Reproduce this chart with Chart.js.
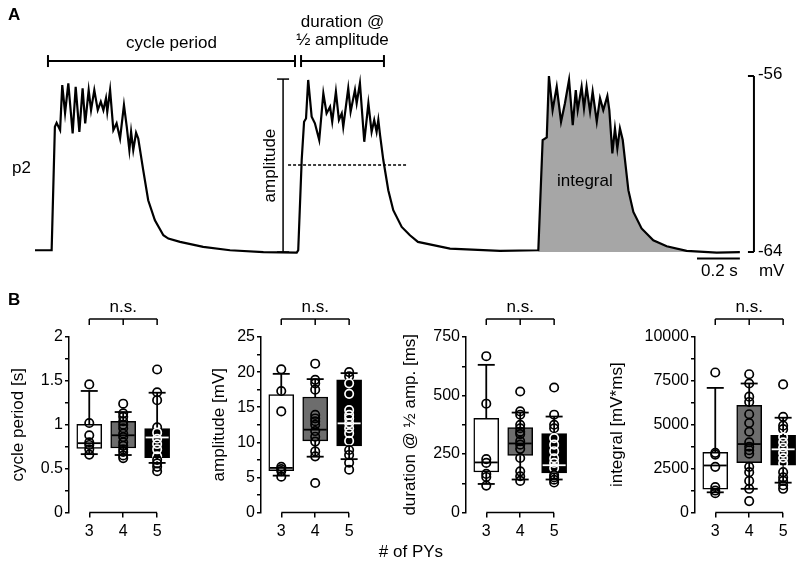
<!DOCTYPE html>
<html>
<head>
<meta charset="utf-8">
<script src="https://cdn.jsdelivr.net/npm/chart.js@4.4.1/dist/chart.umd.min.js"></script>
<style>
  body { margin: 0; width: 800px; height: 566px; overflow: hidden; background: #fff; position: relative;
         font-family: "Liberation Sans", Arial, sans-serif; color: #000; }
  canvas { position: absolute; }
  .tag { position: absolute; font-weight: bold; font-size: 17px; }
  .xlab { position: absolute; font-size: 17px; left: 339px; width: 144px; text-align: center; top: 542px; }
</style>
</head>
<body>
<canvas id="trace" width="800" height="285" style="left:0;top:0"></canvas>
<canvas id="cycle" width="180" height="281" style="left:0;top:285px"></canvas>
<canvas id="amp" width="180" height="281" style="left:192px;top:285px"></canvas>
<canvas id="dur" width="180" height="281" style="left:397px;top:285px"></canvas>
<canvas id="integ" width="206" height="281" style="left:600px;top:285px"></canvas>
<div class="tag" style="left:8px;top:5px">A</div>
<div class="tag" style="left:8px;top:290px">B</div>
<div class="xlab"># of PYs</div>
<script>
// ---- panel A: membrane potential trace (time in s, voltage in mV)
const traceT = [0.023,0.100,0.115,0.123,0.139,0.149,0.162,0.177,0.197,0.211,0.228,0.243,0.255,0.271,0.282,0.297,0.313,0.327,0.339,0.351,
  0.357,0.370,0.385,0.400,0.416,0.434,0.447,0.459,0.467,0.477,0.490,0.500,0.523,0.546,0.577,0.616,0.639,0.693,0.800,0.924,1.078,1.232,
  1.239,1.255,1.266,1.275,1.285,1.301,1.316,1.336,1.355,1.370,1.386,1.396,1.413,1.427,1.440,1.447,1.470,1.481,1.501,1.509,
  1.524,1.544,1.563,1.578,1.590,1.601,1.609,1.617,1.632,1.655,1.678,1.717,1.755,1.792,1.940,2.171,2.348,
  2.368,2.387,2.397,2.414,2.433,2.453,2.471,2.490,2.507,2.521,2.530,2.548,2.559,2.571,2.587,2.599,2.618,2.633,2.648,2.667,
  2.676,2.690,2.702,2.713,2.725,2.738,2.764,2.787,2.825,2.879,2.941,3.033,3.172,3.279];
const traceV = [-63.92,-63.92,-58.31,-58.13,-58.46,-56.41,-57.68,-56.33,-58.61,-56.49,-58.54,-56.56,-58.15,-56.64,-57.55,-56.64,-57.55,-57.17,-57.55,-57.01,
  -57.62,-56.64,-58.46,-58.15,-58.84,-57.32,-58.31,-59.37,-58.54,-59.37,-58.58,-58.84,-60.28,-61.65,-62.56,-63.24,-63.39,-63.54,-63.77,-63.92,-64.01,-64.03,
  -63.92,-59.82,-58.08,-57.93,-56.18,-57.85,-58.15,-58.91,-56.79,-57.70,-57.40,-58.08,-56.71,-58.00,-57.70,-58.31,-56.56,-57.62,-56.64,-57.24,
  -56.33,-58.99,-57.24,-58.54,-58.00,-58.54,-58.00,-58.69,-59.82,-61.19,-62.10,-62.86,-63.24,-63.54,-63.85,-63.95,-63.92,
  -58.91,-58.79,-56.00,-57.55,-56.49,-58.08,-57.24,-56.18,-58.23,-56.64,-57.55,-56.49,-57.47,-56.49,-57.62,-56.71,-58.08,-57.01,-57.55,-56.91,
  -57.55,-59.52,-58.38,-59.29,-58.38,-58.91,-61.19,-62.18,-62.93,-63.47,-63.74,-63.95,-64.03,-64.01];
const integralStart = 78;          // index where the shaded burst begins
const baselineMv = -64;

// annotation positions (data units)
const periodSpan = [0.083, 1.224];
const durationSpan = [1.252, 1.635];
const bracketLevel = -55.32;
const ampTime = 1.169;
const ampRange = [-64, -56.14];
const halfLevel = -60.05;
const halfSpan = [1.192, 1.741];
const scaleTime = 3.344;
const mvRange = [-64, -56];
const timeBar = [3.081, 3.279];
const timeBarLevel = -64.3;
const integralLabel = [2.563, -60.77];

// ---- panel B: box plots per number of PYs
const pyCounts = [3, 4, 5];

const cycle3 = [1.46, 1.02, 0.88, 0.80, 0.77, 0.72, 0.66];
const cycle4 = [1.24, 1.13, 1.09, 1.04, 1.00, 0.96, 0.90, 0.86, 0.80, 0.76, 0.72, 0.69, 0.65, 0.62];
const cycle5 = [1.63, 1.37, 1.28, 0.97, 0.91, 0.84, 0.78, 0.72, 0.64, 0.60, 0.56, 0.52, 0.47];
const cycleQ1 = [0.73, 0.735, 0.625];
const cycleQ3 = [1.005, 1.04, 0.955];
const cycleMed = [0.79, 0.88, 0.855];
const cycleLow = [0.665, 0.655, 0.565];
const cycleHigh = [1.385, 1.145, 1.365];

const amp3 = [20.4, 17.3, 14.4, 6.5, 6.2, 5.9, 5.1];
const amp4 = [21.2, 18.9, 18.4, 17.5, 13.9, 13.4, 13.0, 12.5, 11.6, 10.8, 10.1, 8.7, 8.0, 4.2];
const amp5 = [20.0, 19.4, 18.4, 16.9, 14.6, 13.9, 13.4, 12.7, 12.0, 11.3, 10.2, 8.9, 8.2, 7.1, 6.1];
const ampQ1 = [5.95, 10.2, 9.5];
const ampQ3 = [16.8, 16.45, 18.9];
const ampMed = [6.35, 11.8, 12.7];
const ampLow = [5.25, 7.95, 7.6];
const ampHigh = [19.75, 19.0, 19.85];

const dur3 = [668, 465, 228, 212, 165, 152, 115];
const dur4 = [517, 432, 418, 375, 360, 345, 335, 305, 290, 272, 233, 176, 155, 135];
const dur5 = [534, 418, 375, 360, 318, 290, 262, 232, 212, 190, 160, 150, 140, 128];
const durQ1 = [173, 244, 169];
const durQ3 = [402, 363, 337];
const durMed = [214, 295, 202];
const durLow = [122, 141, 141];
const durHigh = [631, 427, 410];

const int3 = [7980, 3400, 3300, 2600, 1450, 1250, 1100];
const int4 = [7880, 7350, 6600, 6300, 5600, 5100, 4600, 4000, 3750, 3550, 3350, 2600, 2300, 1800, 1350, 650];
const int5 = [7300, 5450, 4950, 4750, 4300, 4000, 3700, 3400, 3100, 2800, 2300, 2000, 1800, 1550, 1350];
const intQ1 = [1330, 2840, 2690];
const intQ3 = [3430, 6100, 4400];
const intMed = [2680, 3900, 3600];
const intLow = [1150, 1350, 1700];
const intHigh = [7100, 7350, 5400];

const boxFills = ['#ffffff', '#6d6d6d', '#000000'];
const medianColors = ['#000000', '#000000', '#ffffff'];

Chart.defaults.font.family = '"Liberation Sans", Arial, sans-serif';
Chart.defaults.color = '#000';

const seg = (ctx, x1, y1, x2, y2) => { ctx.beginPath(); ctx.moveTo(x1, y1); ctx.lineTo(x2, y2); ctx.stroke(); };

// ---- trace annotations
const traceMarks = {
  id: 'traceMarks',
  afterDatasetsDraw(chart) {
    const { ctx, scales: { x, y } } = chart;
    const px = t => x.getPixelForValue(t), py = v => y.getPixelForValue(v);
    ctx.save();
    ctx.strokeStyle = '#000';
    ctx.fillStyle = '#000';

    ctx.lineWidth = 2;
    const by = py(bracketLevel);
    [periodSpan, durationSpan].forEach(([a, b]) => {
      seg(ctx, px(a), by, px(b), by);
      seg(ctx, px(a), by - 6, px(a), by + 6);
      seg(ctx, px(b), by - 6, px(b), by + 6);
    });

    ctx.lineWidth = 1.5;
    const ax = px(ampTime), ay0 = py(ampRange[0]), ay1 = py(ampRange[1]);
    seg(ctx, ax, ay0, ax, ay1);
    seg(ctx, ax - 6, ay1, ax + 6, ay1);
    seg(ctx, ax - 6, ay0, ax + 6, ay0);

    ctx.setLineDash([3, 2]);
    seg(ctx, px(halfSpan[0]), py(halfLevel), px(halfSpan[1]), py(halfLevel));
    ctx.setLineDash([]);

    ctx.lineWidth = 2;
    const sx = px(scaleTime);
    seg(ctx, sx, py(mvRange[0]), sx, py(mvRange[1]));
    seg(ctx, sx - 6, py(mvRange[0]), sx, py(mvRange[0]));
    seg(ctx, sx - 6, py(mvRange[1]), sx, py(mvRange[1]));
    seg(ctx, px(timeBar[0]), py(timeBarLevel), px(timeBar[1]), py(timeBarLevel));

    ctx.font = '17px "Liberation Sans", Arial, sans-serif';
    ctx.textAlign = 'center';
    ctx.textBaseline = 'middle';
    ctx.fillText('cycle period', px((periodSpan[0] + periodSpan[1]) / 2), by - 18);
    const dmid = px((durationSpan[0] + durationSpan[1]) / 2);
    ctx.fillText('duration @', dmid, by - 39);
    ctx.fillText('½ amplitude', dmid, by - 21);
    ctx.fillText('integral', px(integralLabel[0]), py(integralLabel[1]));
    ctx.fillText('0.2 s', px((timeBar[0] + timeBar[1]) / 2) + 1, py(timeBarLevel) + 13);
    ctx.textAlign = 'left';
    ctx.fillText(String(mvRange[1]), sx + 4, py(mvRange[1]) - 2);
    ctx.fillText(String(mvRange[0]), sx + 4, py(mvRange[0]) - 1);
    ctx.fillText('mV', sx + 5, py(mvRange[0]) + 19);
    ctx.fillText('p2', 12, 168);

    ctx.translate(ax - 13, (ay0 + ay1) / 2);
    ctx.rotate(-Math.PI / 2);
    ctx.textAlign = 'center';
    ctx.fillText('amplitude', 0, 0);
    ctx.restore();
  }
};

new Chart(document.getElementById('trace'), {
  type: 'line',
  data: {
    datasets: [
      {
        data: traceT.slice(integralStart).map((t, i) => ({ x: t, y: traceV[integralStart + i] })),
        fill: { value: baselineMv },
        backgroundColor: '#a6a6a6',
        borderWidth: 0,
        pointRadius: 0,
        order: 2
      },
      {
        data: traceT.map((t, i) => ({ x: t, y: traceV[i] })),
        borderColor: '#000',
        borderWidth: 2.2,
        pointRadius: 0,
        fill: false,
        order: 1
      }
    ]
  },
  options: {
    responsive: false,
    animation: false,
    layout: { padding: { left: 30, right: 40, top: 10, bottom: 11 } },
    scales: {
      x: { type: 'linear', display: false, min: 0, max: 3.372 },
      y: { display: false, min: -65, max: -53 }
    },
    plugins: { legend: { display: false }, tooltip: { enabled: false } }
  },
  plugins: [traceMarks]
});

// ---- box plot panels
function boxPanel(canvasId, cfg) {
  const { groups, q1, q3, med, low, high, yMax, yStep, yMajor, title, yWidth, titlePad } = cfg;

  const whiskers = {
    id: 'whiskers',
    afterDatasetDraw(chart, args) {
      if (args.index !== 0) return;
      const { ctx, scales: { x, y } } = chart;
      ctx.save();
      ctx.lineWidth = 1.8;
      pyCounts.forEach((g, i) => {
        const cx = x.getPixelForValue(g);
        ctx.strokeStyle = '#000';
        seg(ctx, cx, y.getPixelForValue(q3[i]), cx, y.getPixelForValue(high[i]));
        seg(ctx, cx - 8.5, y.getPixelForValue(high[i]), cx + 8.5, y.getPixelForValue(high[i]));
        seg(ctx, cx, y.getPixelForValue(q1[i]), cx, y.getPixelForValue(low[i]));
        seg(ctx, cx - 8.5, y.getPixelForValue(low[i]), cx + 8.5, y.getPixelForValue(low[i]));
        ctx.strokeStyle = medianColors[i];
        seg(ctx, cx - 11.5, y.getPixelForValue(med[i]), cx + 11.5, y.getPixelForValue(med[i]));
      });
      ctx.restore();
    }
  };

  const brackets = {
    id: 'brackets',
    afterDraw(chart) {
      const { ctx, chartArea, scales: { x } } = chart;
      const xs = pyCounts.map(g => x.getPixelForValue(g));
      ctx.save();
      ctx.strokeStyle = '#000';
      ctx.lineWidth = 1.5;
      const ty = chartArea.top - 18;
      seg(ctx, xs[0], ty, xs[2], ty);
      xs.forEach(px => seg(ctx, px, ty, px, ty + 6));
      seg(ctx, xs[0], chartArea.bottom, xs[2], chartArea.bottom);
      ctx.fillStyle = '#000';
      ctx.font = '17px "Liberation Sans", Arial, sans-serif';
      ctx.textAlign = 'center';
      ctx.textBaseline = 'middle';
      ctx.fillText('n.s.', xs[1], chartArea.top - 30);
      ctx.restore();
    }
  };

  return new Chart(document.getElementById(canvasId), {
    type: 'bar',
    data: {
      datasets: [
        {
          type: 'bar',
          data: pyCounts.map((g, i) => ({ x: g, y: [q1[i], q3[i]] })),
          backgroundColor: boxFills,
          borderColor: '#000',
          borderWidth: 1.5,
          borderSkipped: false,
          barThickness: 25,
          order: 3
        },
        ...groups.map((vals, gi) => ({
          type: 'scatter',
          data: vals.map(v => ({ x: pyCounts[gi], y: v })),
          pointRadius: 4.2,
          pointBorderWidth: 1.7,
          pointBackgroundColor: 'rgba(0,0,0,0)',
          pointBorderColor: c => (gi === 2 && c.raw && c.raw.y > q1[gi] && c.raw.y < q3[gi]) ? '#fff' : '#000',
          clip: false,
          order: 1
        }))
      ]
    },
    options: {
      responsive: false,
      animation: false,
      layout: { padding: { top: 52, left: 0, right: 0, bottom: 0 } },
      plugins: { legend: { display: false }, tooltip: { enabled: false } },
      scales: {
        x: {
          type: 'linear', min: 2.403, max: 5.5, offset: false,
          afterBuildTicks: s => { s.ticks = pyCounts.map(v => ({ value: v })); },
          afterFit: s => { s.height = 53.5; },
          ticks: { font: { size: 16 }, color: '#000', padding: 4, autoSkip: false, callback: v => String(v) },
          grid: { display: true, offset: false, drawOnChartArea: false, drawTicks: true, tickLength: 5, color: '#000', lineWidth: 1.5 },
          border: { display: false }
        },
        y: {
          min: 0, max: yMax,
          afterFit: s => { s.width = yWidth; },
          ticks: {
            stepSize: yStep, font: { size: 16 }, color: '#000', padding: 2, autoSkip: false,
            callback: v => (Math.abs(v / yMajor - Math.round(v / yMajor)) < 1e-6 ? String(v) : '')
          },
          grid: { display: true, drawOnChartArea: false, drawTicks: true, tickLength: 4, color: '#000', lineWidth: 1.5 },
          border: { display: true, color: '#000', width: 1.5 },
          title: { display: true, text: title, font: { size: 17 }, color: '#000', padding: { top: titlePad, bottom: 0 } }
        }
      }
    },
    plugins: [whiskers, brackets]
  });
}

boxPanel('cycle', {
  groups: [cycle3, cycle4, cycle5], q1: cycleQ1, q3: cycleQ3, med: cycleMed, low: cycleLow, high: cycleHigh,
  yMax: 2, yStep: 0.25, yMajor: 0.5, title: 'cycle period [s]', yWidth: 69, titlePad: 8
});
boxPanel('amp', {
  groups: [amp3, amp4, amp5], q1: ampQ1, q3: ampQ3, med: ampMed, low: ampLow, high: ampHigh,
  yMax: 25, yStep: 2.5, yMajor: 5, title: 'amplitude [mV]', yWidth: 69, titlePad: 17
});
boxPanel('dur', {
  groups: [dur3, dur4, dur5], q1: durQ1, q3: durQ3, med: durMed, low: durLow, high: durHigh,
  yMax: 750, yStep: 125, yMajor: 250, title: 'duration @ ½ amp. [ms]', yWidth: 69, titlePad: 3.5
});
boxPanel('integ', {
  groups: [int3, int4, int5], q1: intQ1, q3: intQ3, med: intMed, low: intLow, high: intHigh,
  yMax: 10000, yStep: 1250, yMajor: 2500, title: 'integral [mV*ms]', yWidth: 95, titlePad: 7
});
</script>
</body>
</html>
